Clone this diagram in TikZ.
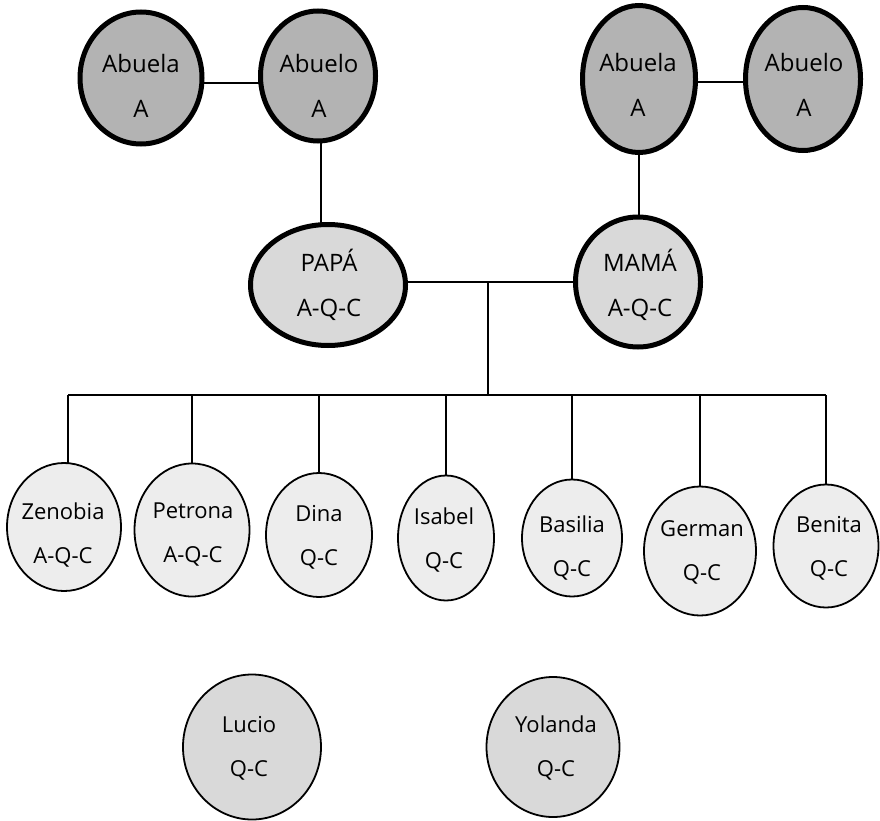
\documentclass[tikz,border=0pt]{standalone}
\usepackage{fontspec}
\setmainfont{Open Sans}
\usetikzlibrary{shapes.geometric,backgrounds}
\def\px{0.75pt}
\definecolor{gA}{HTML}{B3B3B3}
\definecolor{gP}{HTML}{D9D9D9}
\definecolor{gC}{HTML}{EDEDED}
\tikzset{
  elder/.style={ellipse,draw=black,line width=5*\px,fill=gA,inner sep=0pt,outer sep=0pt},
  parent/.style={ellipse,draw=black,line width=5*\px,fill=gP,inner sep=0pt,outer sep=0pt},
  child/.style={ellipse,draw=black,line width=1.8*\px,fill=gC,inner sep=0pt,outer sep=0pt},
  extra/.style={ellipse,draw=black,line width=1.8*\px,fill=gP,inner sep=0pt,outer sep=0pt},
  bigtxt/.style={align=center,inner sep=0pt,font=\fontsize{18}{33.75}\selectfont},
  smalltxt/.style={align=center,inner sep=0pt,font=\fontsize{16.5}{33}\selectfont},
  link/.style={draw=black,line width=2*\px}
}
\begin{document}
\begin{tikzpicture}[x=0.75pt,y=-0.75pt]
\useasboundingbox (0,0) rectangle (880,820);
% grandparents
\node[elder,minimum width=122*\px,minimum height=132*\px] (abL) at (141,78) {};
\node[elder,minimum width=115*\px,minimum height=130*\px] (abuL) at (318,76) {};
\node[elder,minimum width=113*\px,minimum height=147*\px] (abR) at (639,79) {};
\node[elder,minimum width=115*\px,minimum height=143*\px] (abuR) at (803,79) {};
% parents
\node[parent,minimum width=155*\px,minimum height=121*\px] (papa) at (328,285) {};
\node[parent,minimum width=125*\px,minimum height=130*\px] (mama) at (638,282) {};
% children
\node[child,minimum width=114*\px,minimum height=128*\px] (zen) at (64,527) {};
\node[child,minimum width=115*\px,minimum height=133*\px] (pet) at (192,530) {};
\node[child,minimum width=106*\px,minimum height=124*\px] (dina) at (319,535) {};
\node[child,minimum width=96*\px,minimum height=125*\px] (isa) at (446,538) {};
\node[child,minimum width=100*\px,minimum height=117*\px] (bas) at (572,538) {};
\node[child,minimum width=112*\px,minimum height=129*\px] (ger) at (700,551) {};
\node[child,minimum width=105*\px,minimum height=123*\px] (ben) at (826,546) {};
% others
\node[extra,minimum width=138*\px,minimum height=145*\px] (luc) at (252,747) {};
\node[extra,minimum width=133*\px,minimum height=140*\px] (yol) at (553,747) {};
% texts
\node[bigtxt] (tabL) at (141,86) {Abuela\\A};
\node[bigtxt] (tabuL) at (319,86) {Abuelo\\A};
\node[bigtxt] (tabR) at (638,85) {Abuela\\A};
\node[bigtxt] (tabuR) at (804,85) {Abuelo\\A};
\node[bigtxt] (tpapa) at (329,285) {PAPÁ\\A-Q-C};
\node[bigtxt] (tmama) at (640,285) {MAMÁ\\A-Q-C};
\node[smalltxt] (tzen) at (63,535) {Zenobia\\A-Q-C};
\node[smalltxt] (tpet) at (193,535) {Petrona\\A-Q-C};
\node[smalltxt] (tdina) at (319,537) {Dina\\Q-C};
\node[smalltxt] (tisa) at (444,540) {Isabel\\Q-C};
\node[smalltxt] (tbas) at (572,548) {Basilia\\Q-C};
\node[smalltxt] (tger) at (702,552) {German\\Q-C};
\node[smalltxt] (tben) at (829,548) {Benita\\Q-C};
\node[smalltxt] (tluc) at (249,748) {Lucio\\Q-C};
\node[smalltxt] (tyol) at (556,748) {Yolanda\\Q-C};
% connectors
\coordinate (jL) at (230,83);
\coordinate (jR) at (720,82);
\coordinate (dL) at (321,150);
\coordinate (m) at (488,282);
\coordinate (bar) at (488,395);
\begin{pgfonlayer}{background}
\draw[link] (abL.east |- jL) -- (abuL.west |- jL);
\draw[link] (abR.east |- jR) -- (abuR.west |- jR);
\draw[link] (dL |- abuL.south) -- (dL |- papa.north);
\draw[link] (abR.south) -- (abR.south |- mama.north);
\draw[link] (papa.east |- m) -- (mama.west |- m);
\draw[link] (m) -- (bar);
\draw[link] ([xshift=3pt]zen.north |- bar) -- (ben.north |- bar);
\draw[link] ([xshift=3pt]zen.north |- bar) -- ([xshift=3pt]zen.north);
\foreach \c in {pet,dina,isa,bas,ger,ben}{
  \draw[link] (\c.north |- bar) -- (\c.north);
}
\end{pgfonlayer}
\end{tikzpicture}
\end{document}
